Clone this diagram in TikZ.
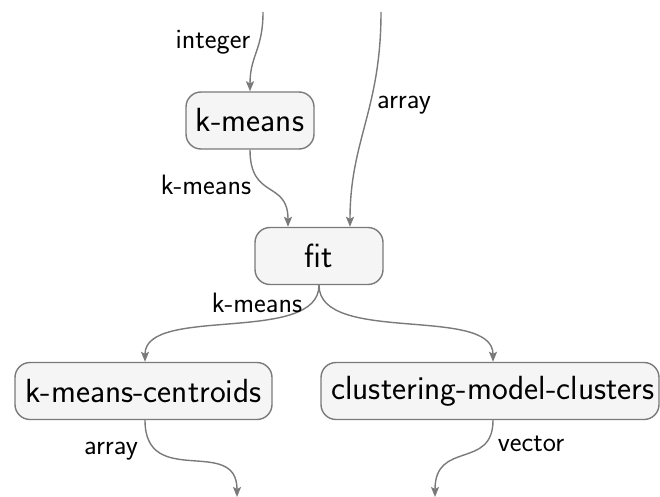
\documentclass[tikz,border=0pt]{standalone}
\usetikzlibrary{arrows.meta}
\definecolor{edgegray}{HTML}{7A7A7A}
\definecolor{boxfill}{HTML}{F5F5F5}
\begin{document}
\begin{tikzpicture}[x=1pt,y=-1pt,
  opbox/.style={draw=edgegray, fill=boxfill, line width=1.4pt, rounded corners=15pt,
    minimum height=57pt, inner sep=0pt, font=\sffamily\fontsize{33.5}{36}\selectfont},
  flow/.style={draw=edgegray, line width=1.4pt, -{Stealth[length=10pt,width=8pt,inset=2pt]}},
  lbl/.style={font=\sffamily\fontsize{28}{30}\selectfont, inner sep=0pt}]
\useasboundingbox (0,0) rectangle (660,497);
\node[opbox, minimum width=128pt] (km) at (250,120.5) {k-means};
\node[opbox, minimum width=128pt] (fit) at (319,256) {fit};
\node[opbox, minimum width=257pt] (cen) at (143.5,391) {k-means-centroids};
\node[opbox, minimum width=338pt] (clu) at (490,391) {\hspace*{6pt}clustering-model-clusters};
\coordinate (inInt) at (263,12);
\coordinate (inArr) at (381,12);
\coordinate (outA) at (237,497);
\coordinate (outV) at (435,497);
\draw[flow] (inInt) .. controls (263,50) and (250,55) .. (km.north);
\draw[flow] (inArr) .. controls (381,110) and (350,140) .. ([xshift=31pt]fit.north);
\draw[flow] (km.south) .. controls (250,200) and (288,180) .. ([xshift=-31pt]fit.north);
\draw[flow] (fit.south) .. controls (319,345) and (145,305) .. ([xshift=1.5pt]cen.north);
\draw[flow] (fit.south) .. controls (319,345) and (493,305) .. ([xshift=3pt]clu.north);
\draw[flow] ([xshift=1.5pt]cen.south) .. controls (145,490) and (237,435) .. (outA);
\draw[flow] ([xshift=3pt]clu.south) .. controls (493,470) and (435,440) .. (outV);
\node[lbl] (lInt) at (213,42) {integer};
\node[lbl] (lArr) at (404,105) {array};
\node[lbl] (lKm) at (206,185) {k-means};
\node[lbl] (lKm2) at (257,303) {k-means};
\node[lbl] (lArr2) at (111,451) {array};
\node[lbl] (lVec) at (531,444) {vector};
\end{tikzpicture}
\end{document}
